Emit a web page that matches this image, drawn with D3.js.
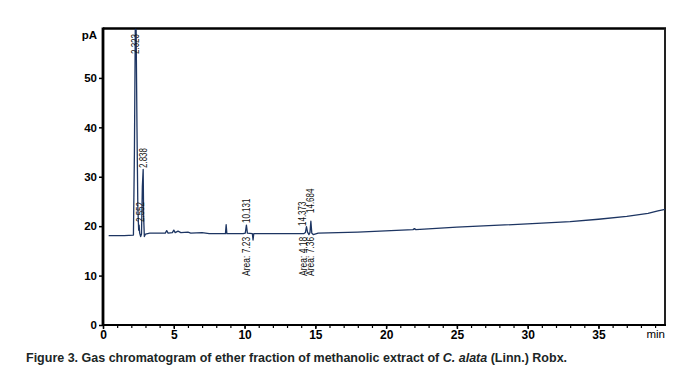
<!DOCTYPE html>
<html><head><meta charset="utf-8">
<script src="https://cdn.jsdelivr.net/npm/d3@7"></script>
<style>body{margin:0;background:#fff}</style></head>
<body><svg id="c" width="698" height="372"></svg>
<script>
// ---- data ----
const retentionTime = [0.4,1.5,2.15,2.22,2.28,2.34,2.40,2.46,2.52,2.552,2.59,2.66,2.72,2.78,2.838,2.87,2.92,3.0,3.3,4.4,4.5,4.6,4.9,5.0,5.1,5.3,5.5,6.0,6.2,7.0,7.5,8.65,8.7,8.75,9.9,10.05,10.131,10.2,10.55,10.6,10.65,12,14.2,14.3,14.373,14.45,14.55,14.62,14.684,14.75,14.85,15.2,18,21.9,22.0,22.1,25,28,31,33,35,37,38.5,39.2,39.7];
const signalPA = [18.1,18.1,18.2,35,59.8,59.8,40,24,19.2,20.2,18.6,17.9,18.4,28,31.5,22,17.9,18.4,18.6,18.6,19.1,18.6,18.7,19.2,18.7,19.0,18.7,18.8,18.6,18.7,18.5,18.5,20.3,18.5,18.5,18.6,20.2,18.6,18.5,17.2,18.5,18.5,18.5,18.7,19.9,18.8,18.3,18.7,21.0,18.6,18.3,18.6,18.8,19.3,19.5,19.3,19.8,20.2,20.6,20.9,21.4,22.0,22.6,23.1,23.4];
const peakTimes = [2.323,2.552,2.838,10.131,14.373,14.684];
const peakLabels = ["2.323","2.552","2.838","10.131","14.373","14.684"];
const areaTimes = [10.131,14.373,14.684];
const areaLabels = ["Area: 7.23","Area: 4.18","Area: 7.36"];
const xTickValues = [0,5,10,15,20,25,30,35];
const yTickValues = [0,10,20,30,40,50];
const xDomain = [0,39.7];
const yDomain = [0,60];

// ---- layout ----
const svg = d3.select("#c");
const L=103, R=665, T=28.5, B=325;
const x = d3.scaleLinear().domain(xDomain).range([L,R]);
const y = d3.scaleLinear().domain(yDomain).range([B,T]);
const tickFont = "'Liberation Sans',Arial,sans-serif";

// frame top & right
svg.append("line").attr("x1",L).attr("x2",R+1).attr("y1",T).attr("y2",T).attr("stroke","#000").attr("stroke-width",2.5);
svg.append("line").attr("x1",R).attr("x2",R).attr("y1",T).attr("y2",B).attr("stroke","#222").attr("stroke-width",2);

// x axis
const xAxis = svg.append("g").attr("transform",`translate(0,${B})`)
  .call(d3.axisBottom(x).tickValues(d3.range(0,40,1)).tickSize(3).tickFormat(""));
xAxis.select(".domain").remove();
xAxis.selectAll("line").attr("stroke","#000").attr("stroke-width",1.2);
const xMajor = svg.append("g").attr("transform",`translate(0,${B})`)
  .call(d3.axisBottom(x).tickValues(xTickValues).tickSize(4).tickPadding(1));
xMajor.select(".domain").remove();
xMajor.selectAll("line").attr("stroke","#000").attr("stroke-width",1.5);
xMajor.selectAll("text").attr("font-family",tickFont).attr("font-weight","bold").attr("font-size",12)
  .attr("fill","#000").attr("transform","scale(0.85,1)")
  .attr("x",function(){ return 0; });
// keep labels centred on ticks while narrowing glyphs
xMajor.selectAll(".tick text").attr("transform",null).attr("textLength",null);
xMajor.selectAll(".tick text").style("font-stretch","condensed");
svg.append("line").attr("x1",L-1).attr("x2",R+1).attr("y1",B).attr("y2",B).attr("stroke","#000").attr("stroke-width",2.2);
svg.append("text").attr("x",R).attr("y",B+13).attr("text-anchor","end")
  .attr("font-family",tickFont).attr("font-size",11.5).attr("fill","#000").text("min");

// y axis
const yAxis = svg.append("g").attr("transform",`translate(${L},0)`)
  .call(d3.axisLeft(y).tickValues(yTickValues).tickSize(4).tickPadding(2));
yAxis.select(".domain").remove();
yAxis.selectAll("line").attr("stroke","#000").attr("stroke-width",1.5);
yAxis.selectAll("text").attr("font-family",tickFont).attr("font-weight","bold").attr("font-size",11.5).attr("fill","#000");
svg.append("line").attr("x1",L).attr("x2",L).attr("y1",T-1).attr("y2",B+1).attr("stroke","#000").attr("stroke-width",2.8);
svg.append("text").attr("x",L-6).attr("y",39).attr("text-anchor","end")
  .attr("font-family",tickFont).attr("font-weight","bold").attr("font-size",11.5).attr("fill","#000").text("pA");

// trace
const line = d3.line().x((d,i)=>x(retentionTime[i])).y(d=>y(d));
svg.append("path").datum(signalPA).attr("d",line).attr("fill","none")
  .attr("stroke","#1d3562").attr("stroke-width",1.3).attr("stroke-linejoin","round");

// peak labels (rotated, narrowed)
const labFont = "'Liberation Sans',Arial,sans-serif";
const peakLayout = [{dx:0,yb:54},{dx:1,yb:222},{dx:0,yb:168},{dx:0,yb:223},{dx:-3.5,yb:226},{dx:0,yb:213}];
peakLabels.forEach((lab,i)=>{
  const px = x(peakTimes[i])+peakLayout[i].dx, py = peakLayout[i].yb;
  svg.append("text").attr("transform",`translate(${px},${py}) rotate(-90) scale(0.8,1)`)
    .attr("dy","0.35em").attr("font-family",labFont).attr("font-size",10).attr("fill","#111").text(lab);
});
const areaDx = [0,-2.5,0];
areaLabels.forEach((lab,i)=>{
  const px = x(areaTimes[i])+areaDx[i], py = 276;
  svg.append("text").attr("transform",`translate(${px},${py}) rotate(-90) scale(0.85,1)`)
    .attr("dy","0.35em").attr("font-family",labFont).attr("font-size",10).attr("fill","#111").text(lab);
});

// caption
const cap = svg.append("text").attr("x",26).attr("y",362)
  .attr("font-family","'Liberation Sans',Arial,sans-serif").attr("font-weight","bold").attr("font-size",12.5).attr("fill","#1b2626");
cap.append("tspan").text("Figure 3. Gas chromatogram of ether fraction of methanolic extract of ");
cap.append("tspan").attr("font-style","italic").text("C. alata");
cap.append("tspan").text(" (Linn.) Robx.");
</script></body></html>
